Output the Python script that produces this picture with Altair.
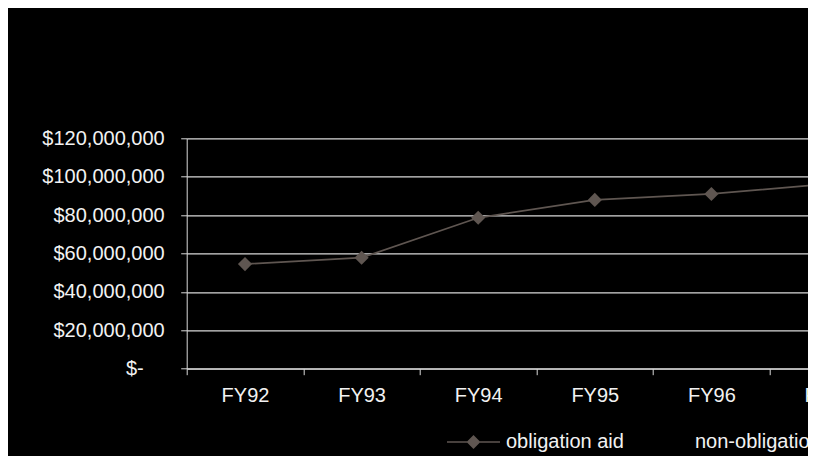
import altair as alt
import pandas as pd

categories = ["FY92", "FY93", "FY94", "FY95", "FY96", "FY97"]
obligation_aid = [54_500_000, 57_800_000, 78_600_000, 87_900_000, 91_000_000, 96_200_000]
series_names = ["obligation aid", "non-obligation aid"]
y_ticks = [0, 20_000_000, 40_000_000, 60_000_000, 80_000_000, 100_000_000, 120_000_000]

df = pd.DataFrame({"year": categories, "value": obligation_aid, "series": series_names[0]})

FONT = "Liberation Sans"
LINE_COLOR = "#5f5651"
TEXT_COLOR = "#f2f2f2"
GRID_COLOR = "#d9d9d9"

legend_path = ("M-1,-0.03L-0.234,-0.03L0,-0.264L0.234,-0.03L1,-0.03L1,0.03"
               "L0.234,0.03L0,0.264L-0.234,0.03L-1,0.03Z")

x_enc = alt.X("year:N", sort=categories,
              scale=alt.Scale(domain=categories, range=[0, 699.6], paddingInner=0, paddingOuter=0),
              axis=alt.Axis(title=None, labelAngle=0, labelFont=FONT, labelFontSize=20,
                            labelColor=TEXT_COLOR, labelPadding=11, tickSize=6,
                            tickBand="extent", domainColor=GRID_COLOR, tickColor=GRID_COLOR,
                            grid=False, labelOverlap=False))
y_enc = alt.Y("value:Q", scale=alt.Scale(domain=[0, 120_000_000], nice=False),
              axis=alt.Axis(title=None, values=y_ticks,
                            labelExpr="datum.value == 0 ? '$-' : '$' + format(datum.value, ',')",
                            labelFont=FONT, labelFontSize=20, labelColor=TEXT_COLOR,
                            labelPadding={"condition": {"test": "datum.value == 0", "value": 37.5},
                                          "value": 16.5},
                            tickSize=6, tickColor=GRID_COLOR,
                            domainColor=GRID_COLOR, gridColor=GRID_COLOR, gridWidth=1.2))

line = alt.Chart(df).mark_line(color=LINE_COLOR, strokeWidth=1.75).encode(x=x_enc, y=y_enc)

points = alt.Chart(df).mark_point(shape="diamond", filled=True, size=200, opacity=1).encode(
    x=x_enc, y=y_enc,
    color=alt.Color("series:N",
                    scale=alt.Scale(domain=series_names, range=[LINE_COLOR, "#000000"]),
                    legend=alt.Legend(orient="none", legendX=260.3, legendY=276.9,
                                      direction="horizontal", title=None,
                                      symbolType=legend_path, symbolSize=2809,
                                      symbolStrokeWidth=0, symbolOpacity=1,
                                      labelFont=FONT, labelFontSize=20, labelColor=TEXT_COLOR,
                                      labelOffset=6, columnPadding=12, labelLimit=400)),
)

chart = alt.layer(line, points).properties(
    width=621.3, height=230.4, background="black",
    padding={"left": 178.7, "top": 130.3, "right": 0, "bottom": 87.3},
    autosize=alt.AutoSizeParams(type="none"),
).configure_view(stroke=None)

chart.save("out.html", embed_options={"renderer": "svg", "actions": False})
